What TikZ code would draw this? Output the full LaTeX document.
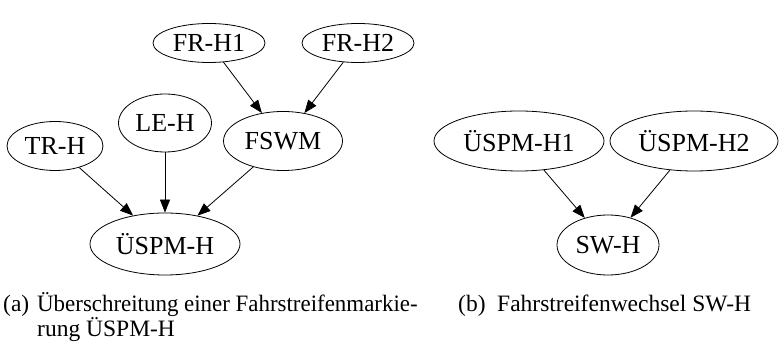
\documentclass[tikz,border=0pt]{standalone}
\usepackage{fontspec}
\setmainfont{Liberation Serif}
\usetikzlibrary{shapes.geometric,arrows.meta}
\tikzset{
  gnode/.style={draw, ellipse, inner sep=0pt, line width=0.8pt,
    font=\fontsize{26}{30}\selectfont},
  gedge/.style={line width=0.8pt, -{Triangle[length=13pt,width=10pt]}},
  captxt/.style={anchor=base west, inner sep=0pt, font=\fontsize{23.5}{28}\selectfont},
}
\begin{document}
\begin{tikzpicture}[x=1pt,y=-1pt]
\useasboundingbox (0,0) rectangle (779,344);
% (a)
\node[gnode, minimum width=112pt, minimum height=39pt] (frh1) at (209,43) {FR-H1};
\node[gnode, minimum width=112pt, minimum height=39pt] (frh2) at (358,43) {FR-H2};
\node[gnode, minimum width=96pt, minimum height=49pt] (trh) at (55,146) {TR-H};
\node[gnode, minimum width=93pt, minimum height=58pt] (leh) at (165,123) {LE-H};
\node[gnode, minimum width=119pt, minimum height=59pt] (fswm) at (283,141) {FSWM};
\node[gnode, minimum width=150pt, minimum height=62pt] (uspmh) at (165,244) {ÜSPM-H};
\draw[gedge] (frh1) -- (fswm);
\draw[gedge] (frh2) -- (fswm);
\draw[gedge] (trh) -- (uspmh);
\draw[gedge] (leh) -- (uspmh);
\draw[gedge] (fswm) -- (uspmh);
% (b)
\node[gnode, minimum width=170pt, minimum height=60pt] (uspmh1) at (519,141) {ÜSPM-H1};
\node[gnode, minimum width=168pt, minimum height=60pt] (uspmh2) at (694,141) {ÜSPM-H2};
\node[gnode, minimum width=102pt, minimum height=60pt] (swh) at (608,245) {SW-H};
\draw[gedge] (uspmh1) -- (swh);
\draw[gedge] (uspmh2) -- (swh);
% captions
\node[captxt] (capa) at (3,312) {(a)};
\node[captxt] (capa1) at (37,312) {\scalebox{0.975}[1]{Überschreitung einer Fahrstreifenmarkie-}};
\node[captxt] (capa2) at (37,337) {rung ÜSPM-H};
\node[captxt] (capb) at (458,312) {(b)};
\node[captxt] (capb1) at (497,312) {Fahrstreifenwechsel SW-H};
\end{tikzpicture}
\end{document}
